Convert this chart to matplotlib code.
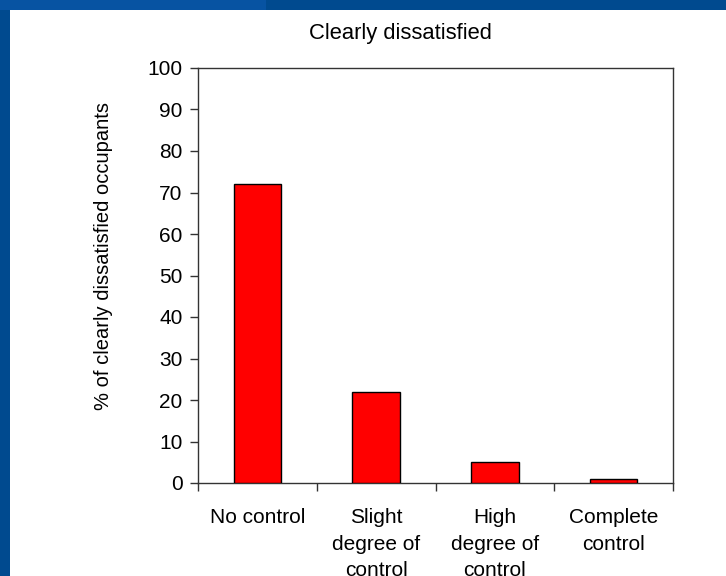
import matplotlib
matplotlib.use("Agg")
import matplotlib.pyplot as plt
from matplotlib.patches import Rectangle

categories = ["No control", "Slight\ndegree of\ncontrol", "High\ndegree of\ncontrol", "Complete\ncontrol"]
values = [72, 22, 5, 1]
yticks = [0, 10, 20, 30, 40, 50, 60, 70, 80, 90, 100]
title = "Clearly dissatisfied"
ylabel = "% of clearly dissatisfied occupants"

plt.rcParams['font.family'] = ['Liberation Sans', 'DejaVu Sans']
W, H = 726, 576
fig = plt.figure(figsize=(W / 100, H / 100), dpi=100)
fig.patch.set_facecolor('#004a8f')

# background axes for the slide frame
bg = fig.add_axes([0, 0, 1, 1], zorder=0)
bg.set_xlim(0, W)
bg.set_ylim(H, 0)
bg.axis('off')
bg.add_patch(Rectangle((0, 0), 266, 10, facecolor='#0753a2', edgecolor='none'))
bg.add_patch(Rectangle((10, 10), W - 10, H - 10, facecolor='white', edgecolor='none'))

ax = fig.add_axes([198 / W, (H - 483) / H, (673 - 198) / W, (483 - 68) / H], zorder=2)
ax.set_facecolor('white')
x = list(range(len(categories)))
ax.bar(x, values, width=0.4, color='#ff0000', edgecolor='black', linewidth=1.0, zorder=3)
ax.set_xlim(-0.5, len(categories) - 0.5)
ax.set_ylim(0, 100)
ax.set_yticks(yticks)
ax.set_yticklabels([str(v) for v in yticks], fontsize=15)
ax.set_xticks([i - 0.5 for i in range(len(categories) + 1)])
ax.set_xticklabels([])
ax.set_xticks(x, minor=True)
ax.set_xticklabels(categories, minor=True, fontsize=15, linespacing=1.5)
ax.tick_params(axis='x', which='major', direction='out', length=6, width=1, color='#333333')
ax.tick_params(axis='x', which='minor', length=0, pad=18)
ax.tick_params(axis='y', direction='out', length=6, width=1, color='#333333', pad=5)
for s in ax.spines.values():
    s.set_color('#333333')
    s.set_linewidth(1.0)

fig.text(400 / W, 1 - 33 / H, title, ha='center', va='center', fontsize=15.8)
fig.text(104 / W, 1 - 256 / H, ylabel, ha='center', va='center', rotation=90, fontsize=14.5)

fig.savefig('out.png', dpi=100, facecolor=fig.get_facecolor())
